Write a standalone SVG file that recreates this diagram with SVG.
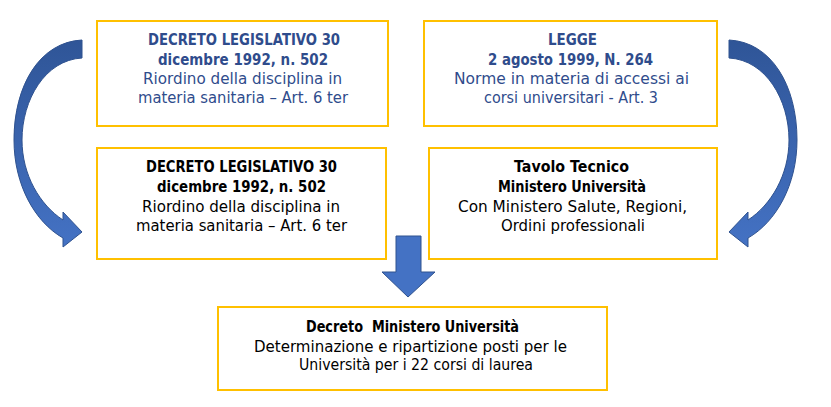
<svg xmlns="http://www.w3.org/2000/svg" xmlns:xlink="http://www.w3.org/1999/xlink" width="831" height="407" viewBox="0 0 831 407">
<style>
.box{fill:#FFFFFF;stroke:#FFC000;stroke-width:2}
text{font-family:"DejaVu Sans","Liberation Sans",sans-serif;font-size:16px;text-anchor:middle}
.b{font-weight:bold}
.blue{fill:#2F4C8C}
.blk{fill:#000000}
.arr{fill:url(#ag);stroke:#2F528F;stroke-width:1}
</style>
<defs>
<linearGradient id="ag" x1="0" y1="0" x2="0" y2="1">
<stop offset="0" stop-color="#2F5597"/>
<stop offset="1" stop-color="#4472C4"/>
</linearGradient>
<path id="curve" d="M82,40 L82,58 C45,60 22,100 22,140 C22,175 40,205 63,220 L63,212 L82,232 L63,247 L63,238 C35,222 14,185 14,140 C14,85 40,42 82,40 Z"/>
</defs>
<rect width="831" height="407" fill="#FFFFFF"/>
<g id="connectors">
<use xlink:href="#curve" class="arr"/>
<use xlink:href="#curve" class="arr" transform="matrix(-1 0 0 1 811 0)"/>
<path class="arr" d="M396,236 L421,236 L421,272 L435,272 L408,297 L382,272 L396,272 Z" style="fill:#4472C4"/>
</g>
<g id="node-dlgs-top">
<rect class="box" x="97" y="21" width="291" height="105"/>
<text class="b blue" x="244" y="45" textLength="192" lengthAdjust="spacingAndGlyphs">DECRETO LEGISLATIVO 30</text>
<text class="b blue" x="243" y="65" textLength="170" lengthAdjust="spacingAndGlyphs">dicembre 1992, n. 502</text>
<text class="blue" x="242.5" y="84" textLength="199" lengthAdjust="spacingAndGlyphs">Riordino della disciplina in</text>
<text class="blue" x="243" y="103" textLength="210" lengthAdjust="spacingAndGlyphs">materia sanitaria – Art. 6 ter</text>
</g>
<g id="node-legge">
<rect class="box" x="424" y="21" width="293" height="105"/>
<text class="b blue" x="572.5" y="45" textLength="49" lengthAdjust="spacingAndGlyphs">LEGGE</text>
<text class="b blue" x="570.5" y="65" textLength="165" lengthAdjust="spacingAndGlyphs">2 agosto 1999, N. 264</text>
<text class="blue" x="571.5" y="84" textLength="235" lengthAdjust="spacingAndGlyphs">Norme in materia di accessi ai</text>
<text class="blue" x="571" y="103" textLength="174" lengthAdjust="spacingAndGlyphs">corsi universitari - Art. 3</text>
</g>
<g id="node-dlgs-bottom">
<rect class="box" x="97" y="148" width="289" height="111"/>
<text class="b blk" x="241.5" y="172" textLength="191" lengthAdjust="spacingAndGlyphs">DECRETO LEGISLATIVO 30</text>
<text class="b blk" x="241.5" y="192" textLength="169" lengthAdjust="spacingAndGlyphs">dicembre 1992, n. 502</text>
<text class="blk" x="241" y="212" textLength="198" lengthAdjust="spacingAndGlyphs">Riordino della disciplina in</text>
<text class="blk" x="241.5" y="231" textLength="211" lengthAdjust="spacingAndGlyphs">materia sanitaria – Art. 6 ter</text>
</g>
<g id="node-tavolo">
<rect class="box" x="429" y="148" width="288" height="111"/>
<text class="b blk" x="571.5" y="172" textLength="115" lengthAdjust="spacingAndGlyphs">Tavolo Tecnico</text>
<text class="b blk" x="572" y="192" textLength="148" lengthAdjust="spacingAndGlyphs">Ministero Università</text>
<text class="blk" x="572.5" y="212" textLength="229" lengthAdjust="spacingAndGlyphs">Con Ministero Salute, Regioni,</text>
<text class="blk" x="573" y="231" textLength="144" lengthAdjust="spacingAndGlyphs">Ordini professionali</text>
</g>
<g id="node-decreto-mur">
<rect class="box" x="218" y="307" width="389" height="83"/>
<text class="b blk" x="412.5" y="332" textLength="213" lengthAdjust="spacingAndGlyphs" xml:space="preserve">Decreto  Ministero Università</text>
<text class="blk" x="410.5" y="352" textLength="313" lengthAdjust="spacingAndGlyphs">Determinazione e ripartizione posti per le</text>
<text class="blk" x="416" y="370" textLength="234" lengthAdjust="spacingAndGlyphs">Università per i 22 corsi di laurea</text>
</g>
</svg>
